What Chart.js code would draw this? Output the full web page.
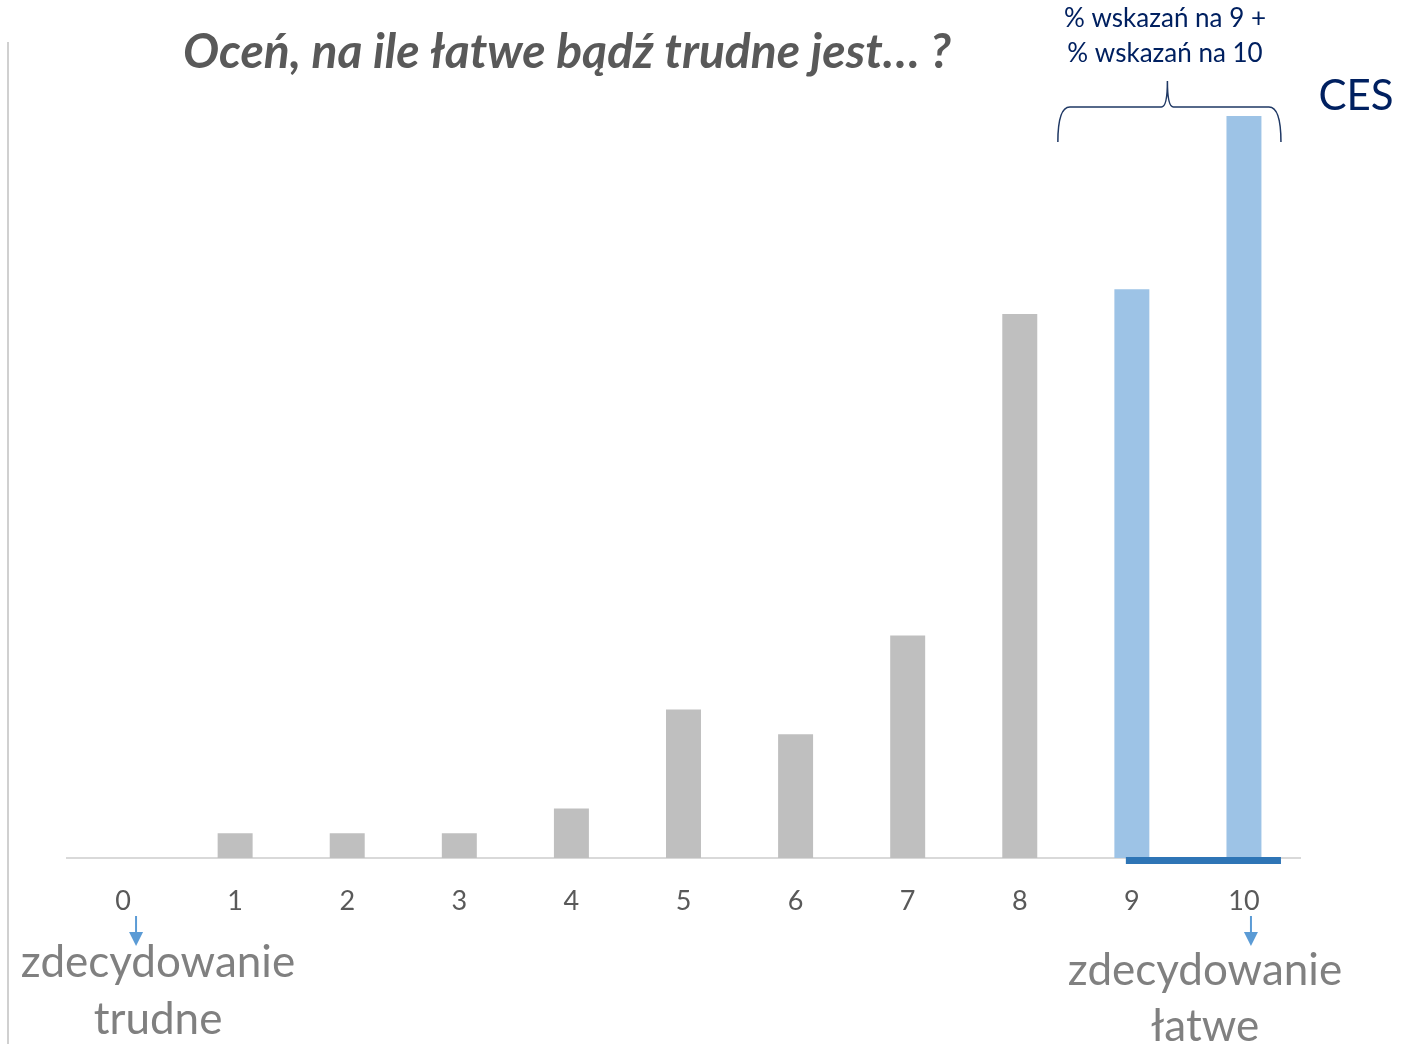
<!DOCTYPE html>
<html>
<head>
<meta charset="utf-8">
<script src="https://cdn.jsdelivr.net/npm/chart.js@4"></script>
<style>
  html, body { margin: 0; padding: 0; background: #fff; }
  #wrap { width: 1405px; height: 1044px; position: relative; }
</style>
</head>
<body>
<div id="wrap"><canvas id="cesChart" width="1405" height="1044"></canvas></div>
<script>
var labels = ["0", "1", "2", "3", "4", "5", "6", "7", "8", "9", "10"];
var values = [0, 1, 1, 1, 2, 6, 5, 9, 22, 23, 30];
var barColors = ["#bfbfbf", "#bfbfbf", "#bfbfbf", "#bfbfbf", "#bfbfbf", "#bfbfbf",
  "#bfbfbf", "#bfbfbf", "#bfbfbf", "#9dc3e6", "#9dc3e6"];
var titleText = "Oceń, na ile łatwe bądź trudne jest… ?";
var braceLines = ["% wskazań na 9 +", "% wskazań na 10"];
var leftNote = ["zdecydowanie", "trudne"];
var rightNote = ["zdecydowanie", "łatwe"];

var FONT = "Lato, 'Open Sans', sans-serif";

function arrowDown(ctx, x, y1, y2) {
  ctx.strokeStyle = "#5b9bd5";
  ctx.fillStyle = "#5b9bd5";
  ctx.lineWidth = 2;
  ctx.beginPath();
  ctx.moveTo(x, y1);
  ctx.lineTo(x, y2 - 12);
  ctx.stroke();
  ctx.beginPath();
  ctx.moveTo(x - 7, y2 - 14);
  ctx.lineTo(x + 7, y2 - 14);
  ctx.lineTo(x, y2);
  ctx.closePath();
  ctx.fill();
}

var extras = {
  id: "extras",
  afterDraw: function(chart) {
    var ctx = chart.ctx;
    var xs = chart.scales.x;
    var area = chart.chartArea;
    ctx.save();

    // left frame line
    ctx.strokeStyle = "#d0d0d0";
    ctx.lineWidth = 2;
    ctx.beginPath();
    ctx.moveTo(8, 42);
    ctx.lineTo(8, 1044);
    ctx.stroke();

    // title
    ctx.fillStyle = "#595959";
    ctx.font = "italic bold 48px " + FONT;
    ctx.textAlign = "center";
    ctx.textBaseline = "middle";
    ctx.fillText(titleText, 567, 53);

    // blue underline for 9 and 10
    var x9 = xs.getPixelForValue(9);
    var x10 = xs.getPixelForValue(10);
    ctx.fillStyle = "#2e75b6";
    ctx.fillRect(x9 - 6, area.bottom - 1, (x10 + 37) - (x9 - 6), 7);

    // brace
    var bl = x9 - 74, br = x10 + 37, bm = (bl + br) / 2 - 2;
    ctx.strokeStyle = "#1f3864";
    ctx.lineWidth = 1.5;
    ctx.beginPath();
    ctx.moveTo(bl, 142);
    ctx.quadraticCurveTo(bl, 107, bl + 12, 107);
    ctx.lineTo(bm - 6, 107);
    ctx.quadraticCurveTo(bm, 107, bm, 81);
    ctx.quadraticCurveTo(bm, 107, bm + 6, 107);
    ctx.lineTo(br - 12, 107);
    ctx.quadraticCurveTo(br, 107, br, 142);
    ctx.stroke();

    ctx.fillStyle = "#002060";
    ctx.font = "26px " + FONT;
    ctx.fillText(braceLines[0], 1165, 19);
    ctx.fillText(braceLines[1], 1165, 54);
    ctx.font = "42px " + FONT;
    ctx.fillText("CES", 1356, 96);

    // arrows and end notes
    var x0 = xs.getPixelForValue(0);
    arrowDown(ctx, x0 + 13, 916, 946);
    arrowDown(ctx, x10 + 7, 916, 946);

    ctx.fillStyle = "#808080";
    ctx.font = "44px " + FONT;
    ctx.fillText(leftNote[0], 158, 963);
    ctx.fillText(leftNote[1], 158, 1020);
    ctx.fillText(rightNote[0], 1205, 971);
    ctx.fillText(rightNote[1], 1205, 1027);
    ctx.restore();
  }
};

new Chart(document.getElementById("cesChart"), {
  type: "bar",
  data: {
    labels: labels,
    datasets: [{
      data: values,
      backgroundColor: barColors,
      borderWidth: 0,
      barPercentage: 0.312,
      categoryPercentage: 1
    }]
  },
  options: {
    responsive: false,
    animation: false,
    events: [],
    layout: { padding: { top: 74, left: 67, right: 105, bottom: 0 } },
    plugins: {
      legend: { display: false },
      tooltip: { enabled: false },
      title: { display: false }
    },
    scales: {
      x: {
        offset: true,
        grid: { display: false, drawTicks: false },
        border: { display: true, color: "#d9d9d9", width: 2 },
        ticks: { color: "#595959", font: { family: FONT, size: 27 }, padding: 27 },
        afterFit: function(scale) { scale.height = 186; }
      },
      y: {
        display: false,
        min: 0,
        max: 31.7
      }
    }
  },
  plugins: [extras]
});
</script>
</body>
</html>
